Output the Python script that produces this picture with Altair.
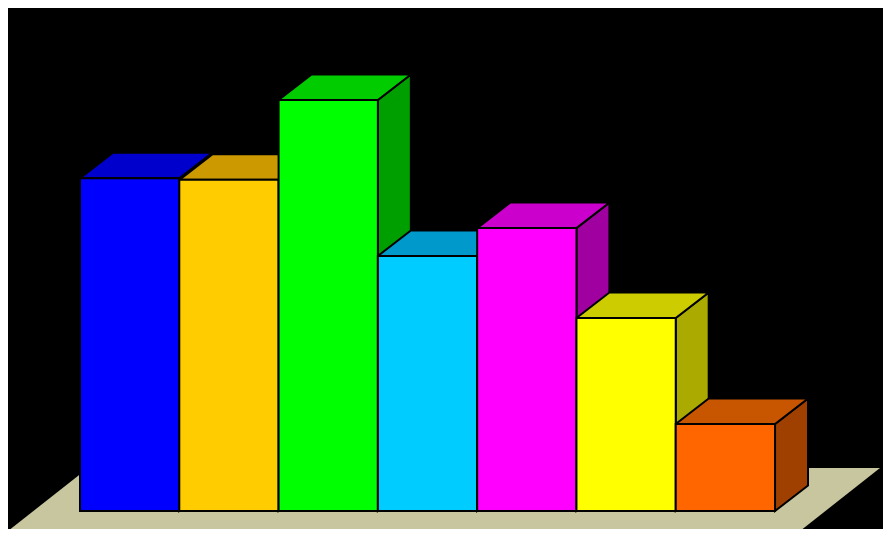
import altair as alt
import pandas as pd

# ---- data ----
categories = ["A", "B", "C", "D", "E", "F", "G"]
values = [80.0, 79.6, 98.8, 61.3, 68.0, 46.4, 20.9]
front_colors = ["#0000FF", "#FFCC00", "#00FF00", "#00CCFF", "#FF00FF", "#FFFF00", "#FF6600"]
top_colors = ["#0000CC", "#CC9900", "#00CC00", "#0099CC", "#CC00CC", "#CCCC00", "#C85500"]
side_colors = ["#000099", "#997300", "#009F00", "#007399", "#A000A0", "#AAAA00", "#A04000"]
floor_color = "#C8C69E"

# 3D depth offsets in data units
DX = 0.332
DY = 6.13

front_rows, top_rows, side_rows = [], [], []
for i, (cat, v) in enumerate(zip(categories, values)):
    key = f"b{i}"
    front_rows.append(dict(key=key, cat=cat, x0=i, x1=i + 1, y0=0, y1=v, color=front_colors[i]))
    top_rows.append(dict(key=key, y=v, xa=i, xb=i + 1, color=top_colors[i]))
    top_rows.append(dict(key=key, y=v + DY, xa=i + DX, xb=i + 1 + DX, color=top_colors[i]))
    side_rows.append(dict(key=key, x=i + 1, ya=0, yb=v, color=side_colors[i]))
    side_rows.append(dict(key=key, x=i + 1 + DX, ya=DY, yb=v + DY, color=side_colors[i]))

n = len(categories)
floor_rows = [
    dict(key="floor", y=-4.81, xa=-0.725, xb=n + 0.252, color=floor_color),
    dict(key="floor", y=10.34, xa=0.081, xb=n + 1.057, color=floor_color),
]

fronts = pd.DataFrame(front_rows)
tops = pd.DataFrame(top_rows)
sides = pd.DataFrame(side_rows)
floor = pd.DataFrame(floor_rows)

xs = alt.Scale(domain=[-0.7252, 8.0874], nice=False, zero=False)
ys = alt.Scale(domain=[-4.33, 120.91], nice=False, zero=False)
col = alt.Color("color:N", scale=None, legend=None)
SW = 2

floor_layer = alt.Chart(floor).mark_area(orient="horizontal").encode(
    y=alt.Y("y:Q", scale=ys, axis=None, stack=None),
    x=alt.X("xa:Q", scale=xs, axis=None, stack=None),
    x2="xb:Q",
    color=col,
    detail="key:N",
)

side_layer = alt.Chart(sides).mark_area(stroke="black", strokeWidth=SW, strokeJoin="miter").encode(
    x=alt.X("x:Q", scale=xs, axis=None, stack=None),
    y=alt.Y("ya:Q", scale=ys, axis=None, stack=None),
    y2="yb:Q",
    color=col,
    detail="key:N",
)

top_layer = alt.Chart(tops).mark_area(orient="horizontal", stroke="black", strokeWidth=SW, strokeJoin="miter").encode(
    y=alt.Y("y:Q", scale=ys, axis=None, stack=None),
    x=alt.X("xa:Q", scale=xs, axis=None, stack=None),
    x2="xb:Q",
    color=col,
    detail="key:N",
)

front_layer = alt.Chart(fronts).mark_bar(stroke="black", strokeWidth=SW, cornerRadius=0).encode(
    x=alt.X("x0:Q", scale=xs, axis=None),
    x2="x1:Q",
    y=alt.Y("y0:Q", scale=ys, axis=None),
    y2="y1:Q",
    color=col,
)

chart = alt.layer(floor_layer, side_layer, top_layer, front_layer).properties(
    width=875,
    height=521,
    background="black",
    padding=0,
    autosize=alt.AutoSizeParams(type="none"),
).configure_view(strokeWidth=0)

chart.save("out.html", embed_options={"renderer": "svg", "actions": False})
